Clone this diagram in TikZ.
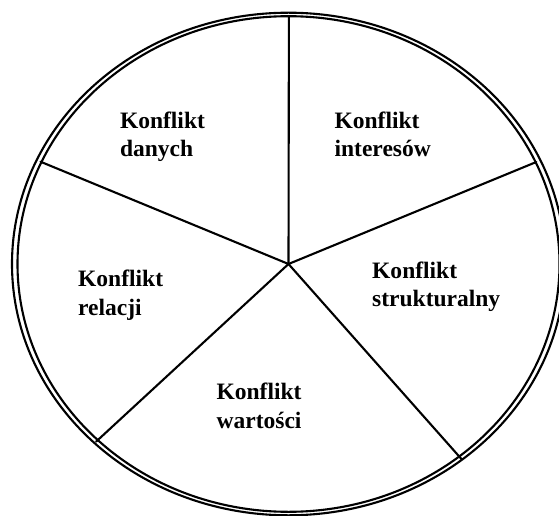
\documentclass[tikz,border=0pt]{standalone}
\usepackage{fontspec}
\setmainfont{Liberation Serif}
\begin{document}
\begin{tikzpicture}[x=1bp,y=-1bp,
  rim/.style={line width=2.1bp},
  spoke/.style={line width=2.1bp, line cap=round},
  lab/.style={font=\fontsize{23.6pt}{28.5pt}\selectfont\bfseries, align=left, inner sep=0pt, anchor=base west}]
\useasboundingbox (0,0) rectangle (559,516);
\fill[white] (0,0) rectangle (559,516);
\coordinate (C) at (288.5,264);
\draw[rim] (C) ellipse [x radius=276.5, y radius=251.3];
\draw[rim] (C) ellipse [x radius=271, y radius=247.8];
\coordinate (O) at (288.5,264);
\coordinate (T) at (288.9,16.5);
\coordinate (UR) at (536.3,162);
\coordinate (UL) at (40.5,161.7);
\coordinate (LL) at (96,441.7);
\coordinate (LR) at (461.7,459.3);
\foreach \p in {T,UR,UL,LL,LR} \draw[spoke] (O) -- (\p);
\node[lab] (danych) at (119.8,156.7) {Konflikt\\danych};
\node[lab] (interesow) at (334.4,156.7) {Konflikt\\interesów};
\node[lab] (struk) at (372,306.7) {Konflikt\\strukturalny};
\node[lab] (relacji) at (78,315) {Konflikt\\relacji};
\node[lab] (wart) at (216.4,428.3) {Konflikt\\wartości};
\end{tikzpicture}
\end{document}
